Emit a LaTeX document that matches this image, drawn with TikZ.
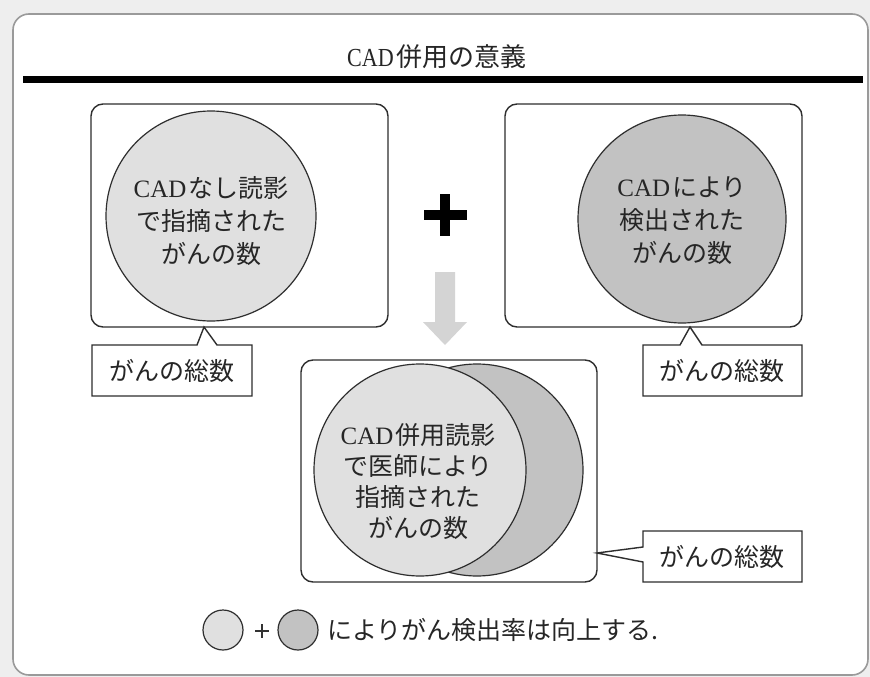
\documentclass[tikz,border=0pt]{standalone}
\usepackage{fontspec}
\usepackage{graphicx}
\setmainfont{Liberation Serif}
\newfontfamily\cjk{Noto Sans CJK JP}
\definecolor{bgcol}{HTML}{EEEEEE}
\definecolor{framecol}{HTML}{9A9A9A}
\definecolor{linecol}{HTML}{2E2E2E}
\definecolor{lightc}{HTML}{E0E0E0}
\definecolor{darkc}{HTML}{C2C2C2}
\definecolor{arrowc}{HTML}{D4D4D4}
\newcommand\cadtxt{{\rmfamily\scalebox{0.85}[1]{CAD}}}
\newcommand\cadbody{{\rmfamily CAD}\hspace{2pt}}
\tikzset{
  panel/.style={draw=linecol, line width=1.4pt, rounded corners=12pt, fill=white},
  callout/.style={draw=linecol, line width=1.4pt, fill=white, line join=miter},
  lightcirc/.style={draw=linecol, line width=1.2pt, fill=lightc},
  darkcirc/.style={draw=linecol, line width=1.2pt, fill=darkc},
  bodytext/.style={font=\cjk\fontsize{25pt}{33pt}\selectfont, align=center, text=black!85, inner sep=0pt},
  labeltext/.style={font=\cjk\fontsize{25pt}{28pt}\selectfont, text=black!85, inner sep=0pt}
}
\begin{document}
\begin{tikzpicture}[x=1pt,y=-1pt]
\useasboundingbox (0,0) rectangle (870,677);
\fill[bgcol] (0,0) rectangle (870,677);
% outer frame
\draw[framecol, line width=1.6pt, fill=white, rounded corners=16pt] (13,14) rectangle (868,675);
% title
\node[font=\cjk\fontsize{26pt}{30pt}\selectfont, text=black!85, inner sep=0pt] (title) at (437,57) {\cadtxt\hspace{3pt}併用の意義};
\fill[black] (23,76) rectangle (863,83);

% top-left panel
\draw[panel] (91,104) rectangle (388,327);
\draw[lightcirc] (211,216) circle (105);
\node[bodytext] (t1) at (211,221) {\cadbody なし読影\\で指摘された\\がんの数};
% left callout
\draw[callout] (92,345) -- (197,345) -- (204,327) -- (217,345) -- (252,345) -- (252,396) -- (92,396) -- cycle;
\node[labeltext] (c1) at (172,371) {がんの総数};

% top-right panel
\draw[panel] (505,104) rectangle (802,327);
\draw[darkcirc] (682,219) circle (104);
\node[bodytext] (t2) at (682,221) {\cadbody により\\検出された\\がんの数};
% right callout
\draw[callout] (643,345) -- (680,345) -- (690,327) -- (702,345) -- (802,345) -- (802,396) -- (643,396) -- cycle;
\node[labeltext] (c2) at (722,371) {がんの総数};

% plus sign
\fill[black] (424,210) rectangle (467,220);
\fill[black] (440,194) rectangle (450,236);
% down arrow
\fill[arrowc] (435,272) -- (455,272) -- (455,322) -- (467,322) -- (445,345) -- (423,322) -- (435,322) -- cycle;

% bottom panel
\draw[panel] (301,360) rectangle (597,582);
\draw[darkcirc] (477,470) circle (106);
\draw[lightcirc] (420,470) circle (106);
\node[bodytext, font=\cjk\fontsize{25pt}{31pt}\selectfont] (t3) at (418,482) {\cadbody 併用読影\\で医師により\\指摘された\\がんの数};
% bottom-right callout
\draw[callout] (643,531) -- (802,531) -- (802,582) -- (643,582) -- (643,562) -- (597,553) -- (643,547) -- cycle;
\node[labeltext] (c3) at (722,557) {がんの総数};

% legend
\draw[lightcirc] (223,630) circle (20);
\draw[black!80, line width=1.2pt] (255,631) -- (269,631) (262,624) -- (262,638);
\draw[darkcirc] (298,630) circle (20);
\node[labeltext, anchor=west] (lt) at (327,630) {によりがん検出率は向上する.};
\end{tikzpicture}
\end{document}
